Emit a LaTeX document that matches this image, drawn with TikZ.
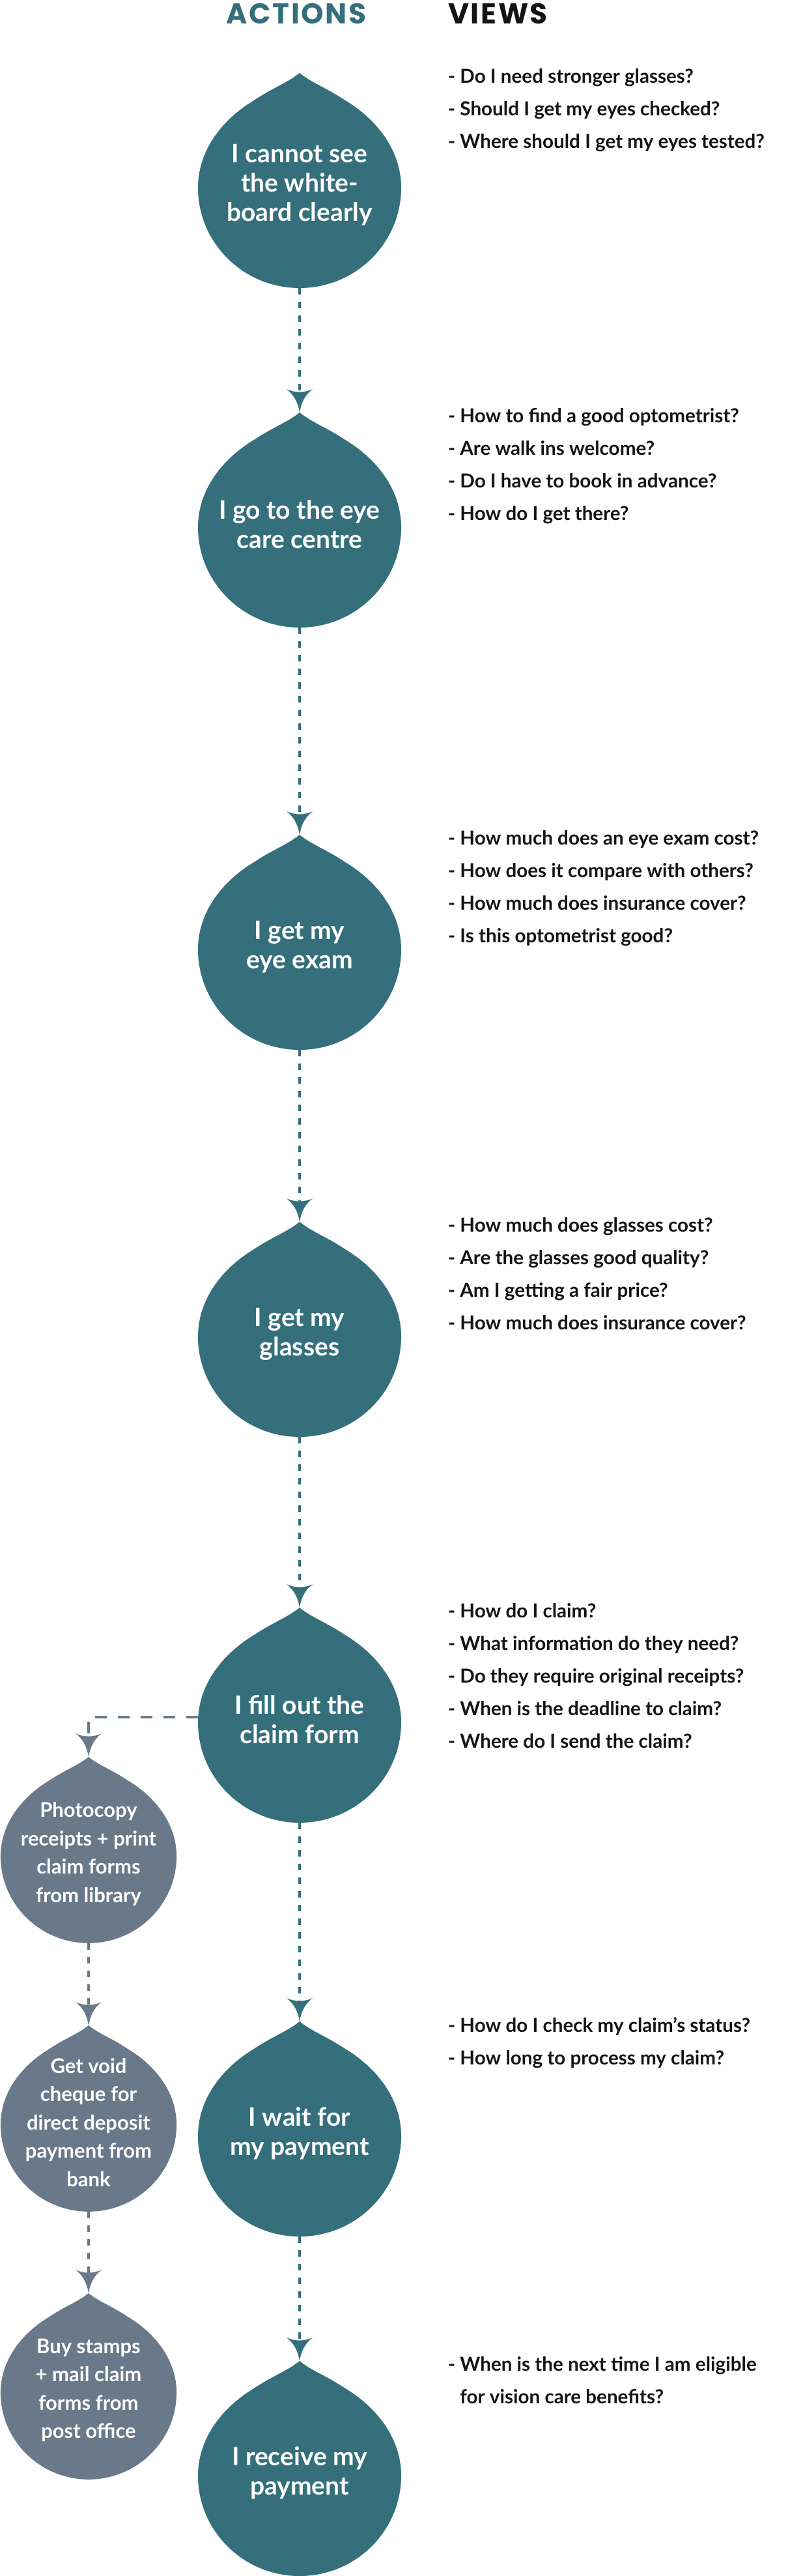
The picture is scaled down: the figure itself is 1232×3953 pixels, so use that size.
\documentclass[tikz,border=0pt]{standalone}
\usepackage{fontspec}
\setmainfont{Lato}
\newfontfamily\headfont[LetterSpace=6]{Poppins}
\definecolor{actteal}{RGB}{53,111,123}
\definecolor{slate}{RGB}{106,121,137}
\definecolor{ink}{RGB}{20,20,20}
% Pfeilspitze
\pgfdeclarearrow{
  name = Drip,
  setup code = {
    \pgfarrowssettipend{0pt}
    \pgfarrowssetlineend{-31pt}
    \pgfarrowssetvisualbackend{-36pt}
    \pgfarrowssetbackend{-36pt}
  },
  drawing code = {
    \pgfpathmoveto{\pgfpointorigin}
    \pgfpathcurveto{\pgfpoint{-18pt}{3pt}}{\pgfpoint{-28pt}{10pt}}{\pgfpoint{-36pt}{20pt}}
    \pgfpathcurveto{\pgfpoint{-30pt}{8pt}}{\pgfpoint{-30pt}{-8pt}}{\pgfpoint{-36pt}{-20pt}}
    \pgfpathcurveto{\pgfpoint{-28pt}{-10pt}}{\pgfpoint{-18pt}{-3pt}}{\pgfpointorigin}
    \pgfpathclose
    \pgfusepathqfill
  }
}
\begin{document}
\begin{tikzpicture}[x=1pt, y=-1pt,
    pics/drop/.style={code={
      \path[drop fill] (0,0) .. controls (20,16) and (40,22) .. (70,42)
        .. controls (120,72) and (156,120) .. (156,176)
        .. controls (156,261) and (86,330) .. (0,330)
        .. controls (-86,330) and (-156,261) .. (-156,176)
        .. controls (-156,120) and (-120,72) .. (-70,42)
        .. controls (-40,22) and (-20,16) .. (0,0) -- cycle;
      \node[drop text] (-txt) at (0,172) {#1};
      \coordinate (-top) at (0,0);
      \coordinate (-bot) at (0,330);
      \coordinate (-left) at (-156,168);
    }},
    act/.style={drop fill/.style={fill=actteal},
      drop text/.style={text=white, align=center, inner sep=0pt, font=\bfseries\fontsize{39}{45}\selectfont}},
    sub/.style={scale=0.866, drop fill/.style={fill=slate},
      drop text/.style={text=white, align=center, inner sep=0pt, font=\bfseries\fontsize{31}{43.5}\selectfont}},
    flow/.style={color=actteal, line width=4pt, dash pattern=on 10pt off 11pt, -Drip},
    subflow/.style={flow, color=slate},
    views/.style={anchor=north west, align=left, inner sep=0pt, text=ink, font=\bfseries\fontsize{29.6}{50}\selectfont},
    head/.style={inner sep=0pt, font=\headfont\bfseries\fontsize{44}{44}\selectfont}]
  \useasboundingbox (0,0) rectangle (1232,3953);
  % Ueberschriften
  \node[head, text=actteal] (hact) at (455,21) {ACTIONS};
  \node[head, text=ink, anchor=west] (hview) at (688,21) {VIEWS};
  % Hauptkette
  \pic[act] (d1) at (460,112) {drop={I cannot see\\the white-\\board clearly}};
  \pic[act] (d2) at (460,633) {drop={I go to the eye\\care centre}};
  \pic[act] (d3) at (460,1281) {drop={I get my\\eye exam}};
  \pic[act] (d4) at (460,1875) {drop={I get my\\glasses}};
  \pic[act] (d5) at (460,2467) {drop={I fill out the\\claim form}};
  \pic[act] (d6) at (460,3102) {drop={I wait for\\my payment}};
  \pic[act] (d7) at (460,3623) {drop={I receive my\\payment}};
  % Nebenkette
  \pic[sub] (g1) at (136,2696) {drop={Photocopy\\receipts + print\\claim forms\\from library}};
  \pic[sub] (g2) at (136,3108) {drop={Get void\\cheque for\\direct deposit\\payment from\\bank}};
  \pic[sub] (g3) at (136,3519) {drop={Buy stamps\\+ mail claim\\forms from\\post office}};
  % Pfeile
  \draw[flow] (d1-bot) -- (d2-top);
  \draw[flow] (d2-bot) -- (d3-top);
  \draw[flow] (d3-bot) -- (d4-top);
  \draw[flow] (d4-bot) -- (d5-top);
  \draw[flow] (d5-bot) -- (d6-top);
  \draw[flow] (d6-bot) -- (d7-top);
  \draw[subflow, dash pattern=on 18pt off 17pt] (d5-left) -| (g1-top);
  \draw[subflow] (g1-bot) -- (g2-top);
  \draw[subflow] (g2-bot) -- (g3-top);
  % Fragen
  \node[views] (v1) at (688,105) {- Do I need stronger glasses?\\- Should I get my eyes checked?\\- Where should I get my eyes tested?};
  \node[views] (v2) at (688,626) {- How to find a good optometrist?\\- Are walk ins welcome?\\- Do I have to book in advance?\\- How do I get there?};
  \node[views] (v3) at (688,1274) {- How much does an eye exam cost?\\- How does it compare with others?\\- How much does insurance cover?\\- Is this optometrist good?};
  \node[views] (v4) at (688,1868) {- How much does glasses cost?\\- Are the glasses good quality?\\- Am I getting a fair price?\\- How much does insurance cover?};
  \node[views] (v5) at (688,2460) {- How do I claim?\\- What information do they need?\\- Do they require original receipts?\\- When is the deadline to claim?\\- Where do I send the claim?};
  \node[views] (v6) at (688,3095) {- How do I check my claim’s status?\\- How long to process my claim?};
  \node[views] (v7) at (688,3616) {- When is the next time I am eligible\\\phantom{- }for vision care benefits?};
\end{tikzpicture}
\end{document}
